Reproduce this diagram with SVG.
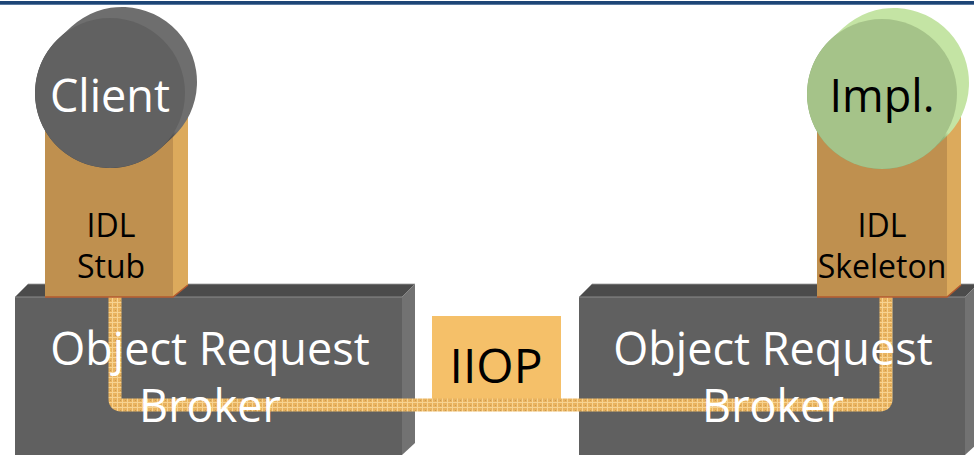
<svg xmlns="http://www.w3.org/2000/svg" width="974" height="455" viewBox="0 0 974 455">
  <style>
    text { font-family: "Open Sans", "Noto Sans", "DejaVu Sans", sans-serif; text-anchor: middle; }
    .orb-front { fill: #606060; }
    .orb-top { fill: #4b4b4b; stroke: #9a9a9a; stroke-width: 0.8; }
    .orb-side { fill: #727272; }
    .orb-text { fill: #ffffff; font-size: 45px; }
    .box-front { fill: #bf904f; }
    .box-side { fill: #dcaa5c; }
    .box-base { stroke: #b4592e; stroke-width: 1.5; }
    .box-text { fill: #000000; font-size: 32px; }
    .disc-text { font-size: 45px; }
  </style>
  <defs>
    <pattern id="weave" width="5" height="5" patternUnits="userSpaceOnUse">
      <rect width="5" height="5" fill="#e9b35f"/>
      <rect x="0" y="2" width="5" height="1" fill="#f7d391"/>
      <rect x="2" y="0" width="1" height="5" fill="#f7d391"/>
      <rect x="0" y="0" width="1" height="1" fill="#c99a50"/>
    </pattern>
    <linearGradient id="clientEdge" x1="0" y1="1" x2="1" y2="0">
      <stop offset="0" stop-color="#4a4a4a"/>
      <stop offset="0.7" stop-color="#555555"/>
      <stop offset="1" stop-color="#6e6e6e"/>
    </linearGradient>
    <linearGradient id="implEdge" x1="0" y1="1" x2="1" y2="0">
      <stop offset="0" stop-color="#88a870"/>
      <stop offset="0.6" stop-color="#95b77b"/>
      <stop offset="1" stop-color="#c4e4a4"/>
    </linearGradient>
  </defs>

  <rect width="974" height="455" fill="#ffffff"/>
  <!-- header rule -->
  <rect x="0" y="1" width="974" height="3" fill="#1d4576"/>
  <rect x="0" y="4" width="974" height="1" fill="#5a7aa0"/>

  <!-- left broker block -->
  <g id="orb-left">
    <rect class="orb-front" x="15" y="297" width="387" height="160"/>
    <polygon class="orb-top" points="15,297 28,284 415,284 402,297"/>
    <polygon class="orb-side" points="402,297 415,284 415,443 402,455"/>
  </g>

  <!-- right broker block -->
  <g id="orb-right">
    <rect class="orb-front" x="579" y="297" width="386" height="160"/>
    <polygon class="orb-top" points="579,297 592,284 978,284 965,297"/>
    <polygon class="orb-side" points="965,297 978,284 978,443 965,455"/>
  </g>

  <!-- protocol box -->
  <g id="iiop">
    <rect x="432" y="316" width="129" height="89" fill="#f5c069"/>
    <text x="496" y="383" font-size="48" fill="#000000">IIOP</text>
  </g>

  <!-- request path: stub down through the brokers and across to the skeleton -->
  <g id="connectors">
    <path d="M115,290 V399 Q115,405 121,405 H880 Q886,405 886,399 V290" fill="none" stroke="url(#weave)" stroke-width="13" stroke-linejoin="round"/>
  </g>

  <!-- broker labels sit above the path -->
  <g id="orb-labels">
    <text class="orb-text" x="210" y="365">Object Request</text>
    <text class="orb-text" x="210" y="422">Broker</text>
    <text class="orb-text" x="773" y="365">Object Request</text>
    <text class="orb-text" x="773" y="422">Broker</text>
  </g>

  <!-- client stub -->
  <g id="stub">
    <rect class="box-front" x="45" y="110" width="128" height="187"/>
    <polygon class="box-side" points="173,110 188,98 188,285 173,297"/>
    <path class="box-base" d="M45,297 H173 L188,285" fill="none"/>
    <text class="box-text" x="111" y="237">IDL</text>
    <text class="box-text" x="111" y="278">Stub</text>
  </g>

  <!-- server skeleton -->
  <g id="skeleton">
    <rect class="box-front" x="817" y="110" width="130" height="187"/>
    <polygon class="box-side" points="947,110 961,98 961,285 947,297"/>
    <path class="box-base" d="M817,297 H947 L961,285" fill="none"/>
    <text class="box-text" x="882" y="237">IDL</text>
    <text class="box-text" x="882" y="278">Skeleton</text>
  </g>

  <!-- client disc -->
  <g id="client">
    <line x1="110" y1="93" x2="122" y2="82" stroke="url(#clientEdge)" stroke-width="150" stroke-linecap="round"/>
    <circle cx="110" cy="93" r="75" fill="#616161"/>
    <text class="disc-text" x="110" y="112" fill="#ffffff">Client</text>
  </g>

  <!-- implementation disc -->
  <g id="impl">
    <line x1="882" y1="94" x2="894" y2="83" stroke="url(#implEdge)" stroke-width="150" stroke-linecap="round"/>
    <circle cx="882" cy="94" r="75" fill="#a5c389"/>
    <text class="disc-text" x="882" y="112" fill="#000000">Impl.</text>
  </g>
</svg>
